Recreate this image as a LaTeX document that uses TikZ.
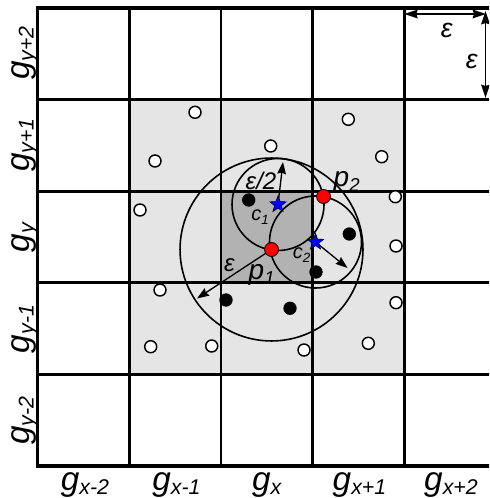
\documentclass[tikz,border=0pt]{standalone}
\usepackage{fontspec}
\setmainfont{Liberation Sans}
\usetikzlibrary{arrows.meta,shapes.geometric}
\newcommand\subtx[3]{\raisebox{-#3}{\fontsize{#1}{#1}\selectfont\itshape #2}}
\newcommand\glab[1]{{\fontsize{25}{27}\selectfont\itshape g\subtx{16}{#1}{3.5pt}}}
\begin{document}
\begin{tikzpicture}[x=0.75pt,y=-0.75pt,
  gridline/.style={line width=2pt},
  border/.style={line width=2.5pt},
  ring/.style={line width=1.2pt},
  hollow/.style={circle,draw=black,line width=1.1pt,fill=white,inner sep=0pt,minimum size=9pt},
  solid/.style={circle,fill=black,inner sep=0pt,minimum size=10pt},
  redpt/.style={circle,fill=red,draw=black,line width=0.6pt,inner sep=0pt,minimum size=10.5pt},
  starpt/.style={star,star points=5,star point ratio=2.4,fill=blue,draw=black,line width=0.4pt,inner sep=0pt,minimum size=13pt},
  arr/.style={line width=1pt,-{Stealth[length=9pt,width=6.5pt,inset=1pt]}},
  darr/.style={line width=1.2pt,{Stealth[length=10pt,width=6.5pt,inset=1pt]}-{Stealth[length=10pt,width=6.5pt,inset=1pt]}},
  lab/.style={inner sep=0pt,font=\itshape}
]
\clip (0,0) rectangle (489,498);
% shading
\fill[black!10] (129.35,99.6) rectangle (404.3,374.8);
\fill[black!30] (221,191.2) rectangle (312.65,282.8);
% grid
\foreach \i in {1,...,4} {
  \draw[gridline] ({37.7+91.65*\i},8) -- ({37.7+91.65*\i},466);
  \draw[gridline] (37.7,{8+91.6*\i}) -- (496,{8+91.6*\i});
}
\draw[border] (37.7,8) rectangle (496,466);
% key points
\coordinate (P1) at (271.5,249.5);
\coordinate (P2) at (323.5,196.5);
\coordinate (C1) at (278,204.5);
\coordinate (C2) at (315.5,242);
\coordinate (tE) at (197,298.5);
\coordinate (tE2) at (283,162);
\coordinate (tC2) at (347.5,268);
\coordinate (hA) at (404.3,14);
\coordinate (hB) at (486,14);
\coordinate (vA) at (485.5,11);
\coordinate (vB) at (485.5,98);
% circles
\draw[ring] (P1) circle[radius=68.6pt];
\draw[ring] (C1) circle[radius=34.5pt];
\draw[ring] (C2) circle[radius=34.5pt];
% arrows
\draw[arr] (P1) -- (tE);
\draw[arr] (C1) -- (tE2);
\draw[arr] (C2) -- (tC2);
\draw[darr] (hA) -- (hB);
\draw[darr] (vA) -- (vB);
% hollow points
\node[hollow] (h1) at (195,112.3) {};
\node[hollow] (h2) at (155,161) {};
\node[hollow] (h3) at (140,210) {};
\node[hollow] (h4) at (270.7,146) {};
\node[hollow] (h5) at (348.3,119.3) {};
\node[hollow] (h6) at (381.7,156.7) {};
\node[hollow] (h7) at (395.3,196.7) {};
\node[hollow] (h8) at (396,246) {};
\node[hollow] (h9) at (160,290) {};
\node[hollow] (h10) at (396,302.7) {};
\node[hollow] (h11) at (150.7,346.7) {};
\node[hollow] (h12) at (211.7,346) {};
\node[hollow] (h13) at (304,350) {};
\node[hollow] (h14) at (368.3,343.3) {};
% solid points
\node[solid] (s1) at (248.7,200) {};
\node[solid] (s2) at (349.3,234) {};
\node[solid] (s3) at (316,272) {};
\node[solid] (s4) at (226,300) {};
\node[solid] (s5) at (290,308.3) {};
% special points
\node[redpt] (p1) at (P1) {};
\node[redpt] (p2) at (P2) {};
\node[starpt] (c1) at (C1) {};
\node[starpt] (c2) at (C2) {};
% labels
\node[lab,font=\fontsize{20}{22}\selectfont\itshape] (le1) at (446.7,30) {ε};
\node[lab,font=\fontsize{20}{22}\selectfont\itshape] (le2) at (471.7,61.7) {ε};
\node[lab,font=\fontsize{18}{20}\selectfont\itshape] (le3) at (261,181) {ε/2};
\node[lab,font=\fontsize{18}{20}\selectfont\itshape] (le4) at (229.5,265) {ε};
\node[lab] (lc1) at (260,217) {\fontsize{15}{17}\selectfont c\subtx{10}{1}{3pt}};
\node[lab] (lc2) at (301.7,255) {\fontsize{15}{17}\selectfont c\subtx{10}{2}{3pt}};
\node[lab] (lp2) at (346.7,182) {\fontsize{21}{23}\selectfont p\subtx{14}{2}{4pt}};
\node[lab] (lp1) at (261.7,275) {\fontsize{21}{23}\selectfont p\subtx{14}{1}{4pt}};
% axis labels
\node[anchor=base,inner sep=0pt] (gx1) at (85,490) {\glab{x-2}};
\node[anchor=base,inner sep=0pt] (gx2) at (176.5,490) {\glab{x-1}};
\node[anchor=base,inner sep=0pt] (gx3) at (266.8,490) {\glab{x}};
\node[anchor=base,inner sep=0pt] (gx4) at (359.5,490) {\glab{x+1}};
\node[anchor=base,inner sep=0pt] (gx5) at (451,490) {\glab{x+2}};
\node[anchor=base,rotate=90,inner sep=0pt] (gy1) at (29,53) {\glab{y+2}};
\node[anchor=base,rotate=90,inner sep=0pt] (gy2) at (29,145) {\glab{y+1}};
\node[anchor=base,rotate=90,inner sep=0pt] (gy3) at (29,237.4) {\glab{y}};
\node[anchor=base,rotate=90,inner sep=0pt] (gy4) at (29,329) {\glab{y-1}};
\node[anchor=base,rotate=90,inner sep=0pt] (gy5) at (29,420.6) {\glab{y-2}};
\end{tikzpicture}
\end{document}
